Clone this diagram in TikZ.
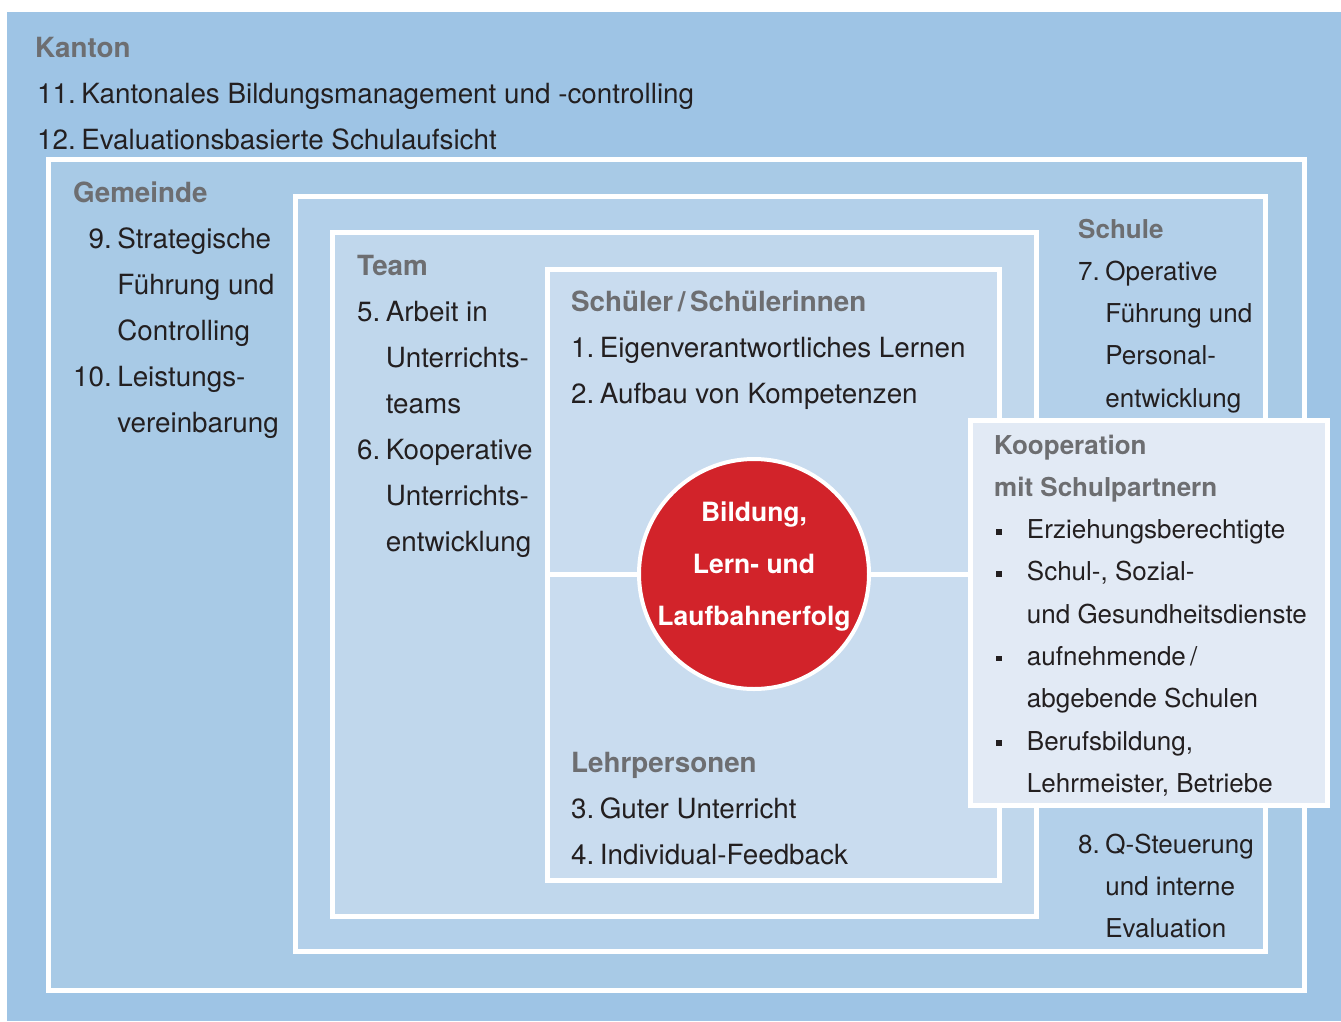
\documentclass[tikz,border=0pt]{standalone}
\usepackage{fontspec}
\setmainfont{TeX Gyre Heros}
\usepackage{xcolor}

\definecolor{kantonblue}{HTML}{9EC4E5}
\definecolor{gemeindeblue}{HTML}{A8CAE6}
\definecolor{schuleblue}{HTML}{B3D0EA}
\definecolor{teamblue}{HTML}{C0D7EC}
\definecolor{schuelerblue}{HTML}{C9DCEF}
\definecolor{koopblue}{HTML}{E2EAF5}
\definecolor{goalred}{HTML}{D2232A}
\definecolor{headgray}{HTML}{6D6E71}
\definecolor{textdark}{HTML}{231F20}

\newcommand{\hd}[1]{{\bfseries\color{headgray}#1}}
\newcommand{\sqbullet}{\hspace*{2pt}\raisebox{0.3ex}{\rule{0.22em}{0.22em}}}
\newcommand{\nsp}{\hspace{5.5pt}}

\tikzset{
  levelbox/.style={draw=white, line width=5pt},
  txt/.style={anchor=base west, inner sep=0pt, text=textdark,
    font=\fontsize{27.8}{46}\selectfont},
  smalltxt/.style={txt, font=\fontsize{26}{42.3}\selectfont},
  goaltext/.style={align=center, inner sep=0pt, text=white,
    font=\bfseries\fontsize{26.5}{52}\selectfont}
}

\begin{document}
\begin{tikzpicture}[x=1pt, y=-1pt]
                \useasboundingbox (0,0) rectangle (1341,1021);
                \fill[white] (0,0) rectangle (1341,1021);
                \fill[kantonblue] (7,12) rectangle (1341,1021);
                % nested levels
                \draw[levelbox, fill=gemeindeblue] (48.5,159.5) rectangle (1304,990);
                \draw[levelbox, fill=schuleblue] (295,196) rectangle (1265,951);
                \draw[levelbox, fill=teamblue] (332,232.5) rectangle (1036.5,916);
                \draw[levelbox, fill=schuelerblue] (547.5,269) rectangle (999.5,880);
                \coordinate (divl) at (547.5,574);
                \coordinate (divr) at (999.5,574);
                \draw[levelbox] (divl) -- (divr);
                \node[circle, minimum size=230pt, fill=goalred, draw=white, line width=4pt] (goal) at (754,574) {};
                \node[goaltext] (goaltxt) at (754,567) {Bildung,\\Lern- und\\Laufbahnerfolg};
                \draw[levelbox, fill=koopblue] (970.5,420.5) rectangle (1327,805);
                % texts
                \node[txt] (kanton) at (35,57) {\begin{tabular}[t]{@{}l@{}}
                    \hd{Kanton}\\
                    \hspace*{2pt}11.\nsp Kantonales Bildungsmanagement und -controlling\\
                    \hspace*{2pt}12.\nsp Evaluationsbasierte Schulaufsicht
                  \end{tabular}};
                \node[txt] (gemeinde) at (73,202) {\begin{tabular}[t]{@{}r@{\nsp}l@{}}
                    \multicolumn{2}{@{}l@{}}{\hd{Gemeinde}}\\
                    9. & Strategische\\
                       & Führung und\\
                       & Controlling\\
                    10. & Leistungs-\\
                        & vereinbarung
                  \end{tabular}};
                \node[txt] (team) at (357,275) {\begin{tabular}[t]{@{}r@{\nsp}l@{}}
                    \multicolumn{2}{@{}l@{}}{\hd{Team}}\\
                    5. & Arbeit in\\
                       & Unterrichts-\\
                       & teams\\
                    6. & Kooperative\\
                       & Unterrichts-\\
                       & entwicklung
                  \end{tabular}};
                \node[txt] (schueler) at (571,311) {\begin{tabular}[t]{@{}r@{\nsp}l@{}}
                    \multicolumn{2}{@{}l@{}}{\hd{Schüler\,/\,Schülerinnen}}\\
                    1. & Eigenverantwortliches Lernen\\
                    2. & Aufbau von Kompetenzen
                  \end{tabular}};
                \node[txt] (lehrer) at (571,772) {\begin{tabular}[t]{@{}r@{\nsp}l@{}}
                    \multicolumn{2}{@{}l@{}}{\hd{Lehrpersonen}}\\
                    3. & Guter Unterricht\\
                    4. & Individual-Feedback
                  \end{tabular}};
                \node[smalltxt] (schule) at (1078,238) {\begin{tabular}[t]{@{}r@{\nsp}l@{}}
                    \multicolumn{2}{@{}l@{}}{\hd{Schule}}\\
                    7. & Operative\\
                       & Führung und\\
                       & Personal-\\
                       & entwicklung
                  \end{tabular}};
                \node[smalltxt] (qsteuerung) at (1078,853) {\begin{tabular}[t]{@{}r@{\nsp}l@{}}
                    8. & Q-Steuerung\\
                       & und interne\\
                       & Evaluation
                  \end{tabular}};
                \node[smalltxt] (koop) at (994,454) {\begin{tabular}[t]{@{}l@{\hspace{25pt}}l@{}}
                    \multicolumn{2}{@{}l@{}}{\hd{Kooperation}}\\
                    \multicolumn{2}{@{}l@{}}{\hd{mit Schulpartnern}}\\
                    \sqbullet & Erziehungsberechtigte\\
                    \sqbullet & Schul-, Sozial-\\
                              & und Gesundheitsdienste\\
                    \sqbullet & aufnehmende\,/\\
                              & abgebende Schulen\\
                    \sqbullet & Berufsbildung,\\
                              & Lehrmeister, Betriebe
                  \end{tabular}};

\end{tikzpicture}
\end{document}
